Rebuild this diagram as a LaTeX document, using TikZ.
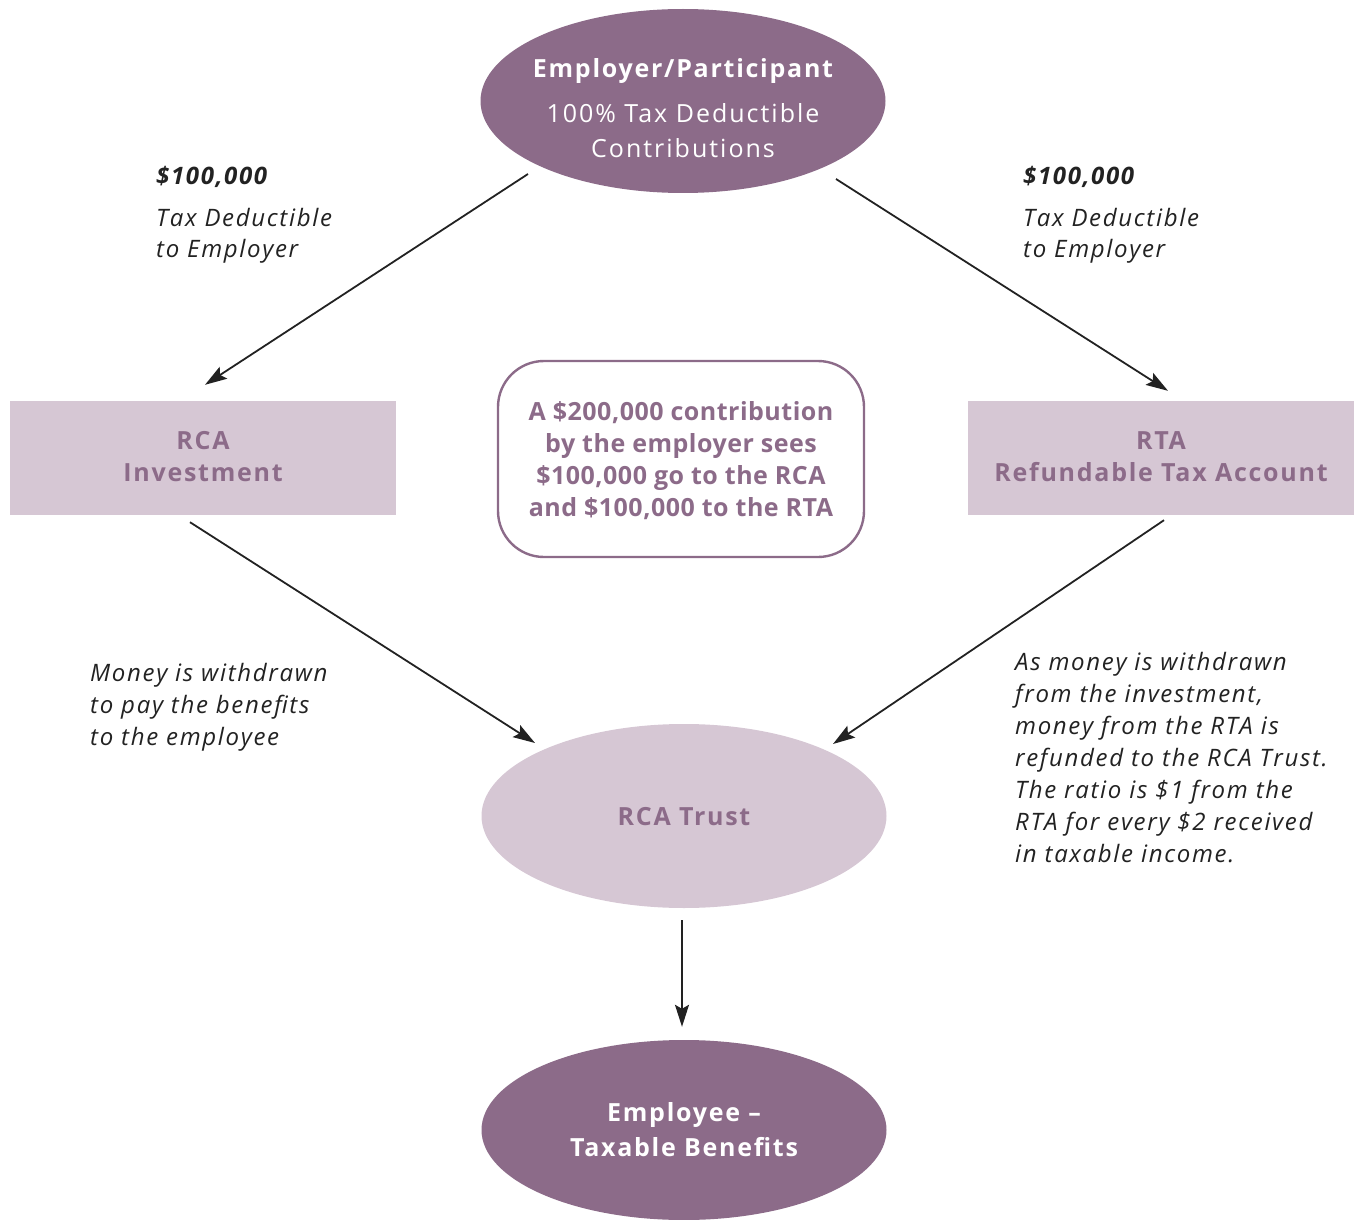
\documentclass[tikz,border=0pt]{standalone}
\usepackage{fontspec}
\setmainfont{Open Sans}
\usetikzlibrary{arrows.meta,calc,shapes.geometric}
\definecolor{dpurple}{HTML}{8C6B89}
\definecolor{lpurple}{HTML}{D6C7D4}
\definecolor{ink}{HTML}{222222}
\begin{document}
\begin{tikzpicture}[x=1pt,y=-1pt,
  oval/.style={ellipse,inner sep=0pt,minimum width=405pt,minimum height=184pt},
  darkoval/.style={oval,fill=dpurple},
  lightoval/.style={oval,fill=lpurple},
  lbox/.style={rectangle,fill=lpurple,inner sep=0pt,minimum width=386pt,minimum height=114pt},
  note/.style={rectangle,rounded corners=46pt,draw=dpurple,line width=2.4pt,fill=white,inner sep=0pt,minimum width=366pt,minimum height=196pt},
  wtb/.style={font=\fontsize{25}{30}\selectfont\bfseries\addfontfeature{LetterSpace=7},text=white,inner sep=0pt,anchor=base},
  wtl/.style={font=\fontsize{25}{30}\selectfont\addfontfeature{LetterSpace=8},text=white,inner sep=0pt,anchor=base},
  ptb/.style={font=\fontsize{25}{30}\selectfont\bfseries\addfontfeature{LetterSpace=7},text=dpurple,inner sep=0pt,anchor=base},
  mtb/.style={font=\fontsize{25}{30}\selectfont\bfseries\addfontfeature{LetterSpace=2},text=dpurple,inner sep=0pt,anchor=base},
  lbl/.style={font=\fontsize{24}{30}\selectfont\itshape\addfontfeature{LetterSpace=7},text=ink,inner sep=0pt,anchor=base west},
  lblb/.style={font=\fontsize{24}{30}\selectfont\bfseries\itshape\addfontfeature{LetterSpace=7},text=ink,inner sep=0pt,anchor=base west},
  arr/.style={draw=ink,line width=1.8pt,-{Stealth[length=22pt,width=14pt,inset=4pt]}}
]
\useasboundingbox (0,0) rectangle (1361,1220);

% shapes
\node[darkoval] (top) at (683,101) {};
\node[lbox] (rca) at (203,458) {};
\node[lbox] (rta) at (1161,458) {};
\node[note] (mid) at (681,459) {};
\node[lightoval] (trust) at (684,816) {};
\node[darkoval,minimum height=180pt] (emp) at (684,1130) {};

% text in shapes
\node[wtb] (t1) at (683,78) {Employer/Participant};
\node[wtl] (t2) at (683,123) {100\% Tax Deductible};
\node[wtl] (t3) at (683,158) {Contributions};

\node[ptb] (r1) at (203,449) {RCA};
\node[ptb] (r2) at (203,481) {Investment};
\node[ptb] (s1) at (1161,449) {RTA};
\node[ptb] (s2) at (1161,481) {Refundable Tax Account};

\node[mtb] (m1) at (681,420) {A \$200,000 contribution};
\node[mtb] (m2) at (681,452) {by the employer sees};
\node[mtb] (m3) at (681,484) {\$100,000 go to the RCA};
\node[mtb] (m4) at (681,516) {and \$100,000 to the RTA};

\node[ptb] (tr) at (684,825) {RCA Trust};
\node[wtb] (e1) at (684,1121) {Employee –};
\node[wtb] (e2) at (684,1156) {Taxable Benefits};

% labels
\node[lblb] (la1) at (156,185) {\$100,000};
\node[lbl] (la2) at (156,226) {Tax Deductible};
\node[lbl] (la3) at (156,258) {to Employer};
\node[lblb] (ra1) at (1023,185) {\$100,000};
\node[lbl] (ra2) at (1023,226) {Tax Deductible};
\node[lbl] (ra3) at (1023,258) {to Employer};

\node[lbl] (lb1) at (90,681) {Money is withdrawn};
\node[lbl] (lb2) at (90,713) {to pay the benefits};
\node[lbl] (lb3) at (90,745) {to the employee};

\foreach \t [count=\i] in {As money is withdrawn,{from the investment,},money from the RTA is,refunded to the RCA Trust.,The ratio is \$1 from the,RTA for every \$2 received,in taxable income.}
  \node[lbl,name=rb\i] at (1015,638+32*\i) {\t};

% connectors
\draw[arr] ($(top.center)+(-155,73)$) -- ($(rca.north)+(2,-16)$);
\draw[arr] ($(top.center)+(153,78)$) -- ($(rta.north)+(7,-10)$);
\draw[arr] ($(rca.south)+(-13,7)$) -- ($(trust.center)+(-149,-73)$);
\draw[arr] ($(rta.south)+(3,5)$) -- ($(trust.center)+(149,-72)$);
\draw[arr] ($(trust.south)+(-2,12)$) -- ($(emp.north)+(-2,-13)$);
\end{tikzpicture}
\end{document}
